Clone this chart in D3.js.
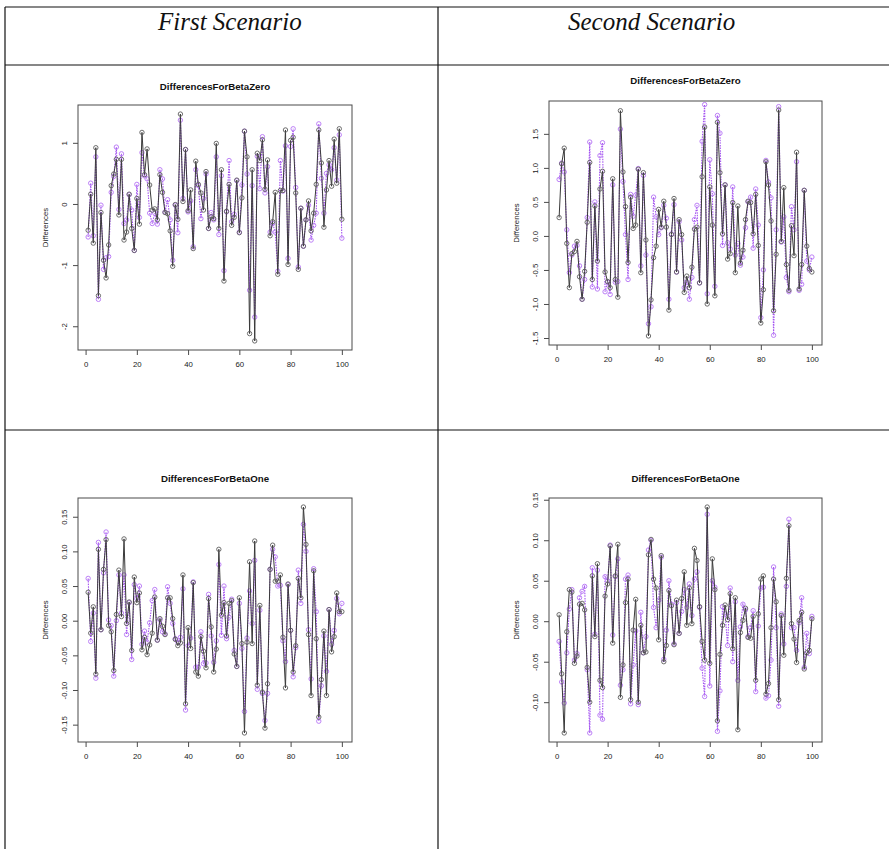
<!DOCTYPE html>
<html>
<head>
<meta charset="utf-8">
<script src="https://cdn.jsdelivr.net/npm/d3@7/dist/d3.min.js"></script>
<style>
  html, body { margin: 0; padding: 0; background: #fff; }
  svg { display: block; }
</style>
</head>
<body>
<svg id="fig" width="889" height="849"></svg>
<script>
// ---- data -------------------------------------------------------------
const scenarioTitles = ["First Scenario", "Second Scenario"];
const panelTitles = ["DifferencesForBetaZero", "DifferencesForBetaOne"];
const yAxisTitle = "Differences";
const xTicks = [0, 20, 40, 60, 80, 100];

// First scenario, beta zero
const s1ZeroBlack = [-0.43,0.16,-0.64,0.92,-1.50,-0.14,-0.92,-1.21,-0.67,0.30,
  0.49,0.73,-0.18,0.73,-0.59,-0.46,0.16,-0.40,-0.76,0.09,
  -0.33,1.17,0.48,0.90,0.31,-0.10,-0.08,-0.26,0.48,0.19,
  -0.14,-0.16,-0.44,-1.02,-0.01,-0.25,1.47,0.04,0.89,-0.11,
  0.23,-0.73,0.70,0.32,0.18,-0.10,0.53,-0.40,-0.21,-0.24,
  0.99,-0.40,0.56,-1.26,-0.12,0.32,-0.35,-0.22,0.39,-0.47,
  0.10,1.19,0.77,-2.12,0.56,-2.24,0.83,0.71,1.05,0.24,
  0.72,-0.52,-0.29,0.19,-1.15,0.22,0.22,1.21,-0.99,1.04,
  1.09,0.18,-1.07,-0.07,-0.69,-0.26,0.05,-0.44,-0.15,0.32,
  1.21,0.67,-0.38,0.23,0.71,0.29,1.06,0.34,1.23,-0.25];
const s1ZeroPurple = [-0.54,0.34,-0.52,0.77,-1.56,-0.02,-1.07,-0.88,-0.86,0.19,
  0.45,0.93,-0.09,0.82,-0.32,-0.26,0.15,-0.10,-0.76,0.32,
  -0.22,0.84,0.46,0.41,-0.15,-0.32,-0.15,-0.33,0.56,0.41,
  -0.13,0.07,-0.26,-0.92,-0.02,-0.47,1.37,0.09,0.89,-0.13,
  0.05,-0.70,0.56,0.30,-0.24,0.09,0.49,-0.40,-0.14,-0.26,
  0.77,-0.50,0.46,-1.09,-0.13,0.71,-0.29,-0.17,0.38,-0.46,
  0.31,1.19,0.49,-1.41,0.30,-1.85,0.78,0.25,1.10,0.18,
  0.61,-0.46,-0.32,-0.46,-1.10,0.71,0.21,0.95,-0.89,0.94,
  1.23,0.27,-1.03,-0.07,-0.69,-0.26,-0.02,-0.59,-0.35,-0.15,
  1.31,0.42,-0.15,0.50,0.64,0.56,0.92,0.39,1.13,-0.56];

// Second scenario, beta zero
const s2ZeroBlack = [0.27,1.06,1.29,-0.11,-0.76,-0.26,-0.23,-0.08,-0.60,-0.93,
  -0.52,0.20,1.08,-0.64,0.44,-0.37,0.69,0.95,-0.53,-0.67,
  -0.76,0.84,-0.64,-0.90,1.84,0.94,0.43,-0.39,0.57,0.11,
  0.16,0.98,-0.54,0.93,-0.06,-1.47,-0.94,-0.32,-0.15,0.39,
  0.13,0.51,0.13,-1.09,0.02,0.55,-0.53,0.24,0.02,-0.83,
  -0.59,-0.76,-0.46,0.10,0.13,-0.69,0.87,1.60,-1.00,0.72,
  0.16,-0.88,1.67,0.93,0.03,0.75,-0.34,-0.26,0.49,-0.54,
  0.44,-0.40,-0.21,0.24,0.51,0.49,0.03,0.61,-0.14,-1.28,
  -0.79,1.09,0.75,0.22,-1.10,-0.27,1.85,-0.08,0.71,-0.42,
  -0.80,0.15,-0.29,1.23,-0.78,-0.42,0.67,-0.15,-0.48,-0.53];
const s2ZeroPurple = [0.83,1.07,0.94,0.09,-0.54,-0.28,-0.15,-0.14,-0.44,-0.93,
  -0.64,0.27,1.38,-0.75,0.50,-0.78,1.18,1.37,-0.82,-0.68,
  -0.86,0.75,-0.68,-0.67,1.57,0.80,0.02,-0.64,0.61,0.29,
  0.60,0.99,-0.44,0.89,-0.28,-1.29,-1.04,0.57,0.28,0.02,
  0.12,0.45,0.26,-0.93,0.03,0.46,-0.53,0.21,-0.06,-0.76,
  -0.68,-0.93,-0.61,0.24,0.45,-0.69,1.39,1.93,-0.85,1.12,
  0.62,-0.74,1.77,1.51,-0.14,0.75,-0.10,-0.19,0.72,-0.28,
  -0.11,-0.43,-0.31,0.12,0.50,0.57,-0.18,0.69,0.16,-1.20,
  -0.50,1.11,0.79,0.56,-1.46,0.09,1.90,-0.09,0.28,-0.61,
  -0.82,0.43,0.09,1.09,-0.80,-0.71,0.67,-0.37,-0.50,-0.31];

// First scenario, beta one
const s1OneBlack = [0.041,-0.018,0.020,-0.077,0.103,-0.013,0.074,0.117,-0.007,-0.016,
  -0.072,0.009,0.073,0.006,0.118,-0.004,0.027,-0.043,0.063,0.026,
  0.040,-0.042,-0.024,-0.049,-0.035,-0.018,0.034,-0.028,0.003,-0.008,
  -0.020,0.033,0.033,0.003,-0.027,-0.036,-0.032,0.066,-0.120,-0.010,
  -0.040,0.055,-0.074,-0.080,-0.023,-0.044,-0.068,0.032,-0.009,-0.074,
  -0.041,0.103,0.008,0.026,-0.022,0.025,0.029,-0.048,-0.066,0.033,
  -0.033,-0.162,-0.031,0.085,-0.033,0.115,-0.093,0.022,-0.103,-0.155,
  -0.091,0.074,0.109,0.057,0.057,0.066,-0.024,-0.097,0.053,-0.014,
  -0.074,-0.036,0.061,0.033,0.164,0.110,-0.020,-0.108,0.072,-0.026,
  -0.139,-0.085,-0.015,-0.108,0.016,-0.045,-0.023,0.040,0.013,0.013];
const s1OnePurple = [0.061,-0.030,0.011,-0.083,0.113,-0.013,0.069,0.128,0.001,-0.007,
  -0.080,0.000,0.066,0.011,0.066,-0.020,0.026,-0.056,0.052,0.032,
  0.050,-0.034,-0.015,-0.031,-0.003,0.029,0.045,-0.028,0.001,-0.016,
  -0.019,0.049,0.025,-0.004,-0.026,-0.031,-0.024,0.046,-0.129,-0.036,
  -0.025,0.056,-0.067,-0.067,-0.016,-0.062,-0.061,0.038,-0.022,-0.060,
  -0.029,0.081,-0.021,0.050,-0.026,0.005,0.031,-0.043,-0.066,0.025,
  -0.040,-0.131,-0.025,0.043,-0.004,0.087,-0.099,0.015,-0.105,-0.144,
  -0.105,0.074,0.103,0.092,0.050,0.051,-0.029,-0.059,0.052,-0.014,
  -0.081,-0.039,0.073,0.025,0.139,0.100,-0.013,-0.084,0.075,0.013,
  -0.145,-0.094,-0.022,-0.073,0.016,-0.034,-0.014,0.032,0.010,0.025];

// Second scenario, beta one
const s2OneBlack = [0.008,-0.065,-0.138,-0.013,0.039,0.036,-0.052,-0.043,0.021,0.022,
  0.014,-0.057,-0.100,0.056,-0.019,0.071,-0.073,-0.082,0.031,0.046,
  0.093,-0.027,0.056,0.095,-0.094,-0.054,0.023,0.052,-0.097,-0.011,
  0.027,-0.100,-0.005,-0.039,-0.038,0.082,0.101,0.052,0.041,-0.023,
  0.081,-0.050,-0.030,0.038,0.019,-0.029,0.026,-0.015,0.028,0.061,
  -0.005,0.041,-0.003,0.090,0.075,0.018,-0.025,-0.048,0.141,-0.052,
  0.077,0.039,-0.123,-0.041,-0.005,0.020,0.002,0.034,-0.034,0.029,
  -0.134,-0.014,0.001,0.016,-0.020,-0.021,0.006,-0.073,0.009,0.052,
  0.056,-0.090,-0.077,-0.008,0.052,0.024,-0.097,0.007,-0.042,0.053,
  0.118,-0.003,-0.022,-0.051,0.001,0.011,-0.059,-0.039,-0.036,0.003];
const s2OnePurple = [-0.025,-0.075,-0.101,-0.039,0.015,0.039,-0.048,-0.040,0.029,0.037,
  0.043,-0.060,-0.138,0.066,-0.016,0.063,-0.116,-0.121,0.055,0.050,
  0.094,-0.017,0.055,0.077,-0.079,-0.060,0.052,0.057,-0.102,-0.054,
  -0.012,-0.103,0.011,-0.039,-0.019,0.088,0.100,0.017,-0.008,0.026,
  0.079,-0.047,-0.011,0.050,0.021,-0.028,0.023,-0.015,0.012,0.039,
  0.017,0.046,0.007,0.052,0.061,0.017,-0.058,-0.093,0.132,-0.080,
  0.050,0.042,-0.136,-0.086,0.018,0.009,-0.030,0.041,-0.050,0.024,
  -0.073,-0.007,0.021,0.014,-0.019,-0.008,0.013,-0.087,-0.006,0.041,
  0.042,-0.095,-0.092,-0.048,0.067,-0.008,-0.105,0.009,-0.028,0.043,
  0.126,-0.008,-0.008,-0.036,-0.002,0.029,-0.057,-0.015,-0.040,0.006];

// y tick values and their printed labels
const yTicksS1Zero = [-2, -1, 0, 1];
const yLabelsS1Zero = ["-2", "-1", "0", "1"];
const yTicksS2Zero = [-1.5, -1.0, -0.5, 0.0, 0.5, 1.0, 1.5];
const yLabelsS2Zero = ["-1.5", "-1.0", "-0.5", "0.0", "0.5", "1.0", "1.5"];
const yTicksS1One = [-0.15, -0.10, -0.05, 0.00, 0.05, 0.10, 0.15];
const yLabelsS1One = ["-0.15", "-0.10", "-0.05", "0.00", "0.05", "0.10", "0.15"];
const yTicksS2One = [-0.10, -0.05, 0.00, 0.05, 0.10, 0.15];
const yLabelsS2One = ["-0.10", "-0.05", "0.00", "0.05", "0.10", "0.15"];

// ---- layout -------------------------------------------------------------
const W = 889, H = 849;
const svg = d3.select("#fig");
svg.append("rect").attr("width", W).attr("height", H).attr("fill", "#fff");

// table grid
const grid = svg.append("g").attr("stroke", "#111").attr("stroke-width", 1.2);
grid.append("line").attr("x1", 5).attr("x2", W).attr("y1", 7).attr("y2", 7);
grid.append("line").attr("x1", 5).attr("x2", W).attr("y1", 65).attr("y2", 65);
grid.append("line").attr("x1", 5).attr("x2", W).attr("y1", 430).attr("y2", 430);
grid.append("line").attr("x1", 5).attr("x2", 5).attr("y1", 7).attr("y2", H);
grid.append("line").attr("x1", 438).attr("x2", 438).attr("y1", 7).attr("y2", H);

// column headers
const headerX = [158, 568];
scenarioTitles.forEach((t, i) => {
  svg.append("text")
    .attr("x", headerX[i]).attr("y", 30)
    .attr("font-family", "'Liberation Serif', 'Times New Roman', serif")
    .attr("font-style", "italic")
    .attr("font-size", 25)
    .attr("fill", "#111")
    .text(t);
});

const panels = [
  { box: { l: 78, t: 105, r: 352, b: 350 }, titleY: 90, title: panelTitles[0],
    black: s1ZeroBlack, purple: s1ZeroPurple, yt: yTicksS1Zero, yl: yLabelsS1Zero },
  { box: { l: 549, t: 101, r: 822, b: 345 }, titleY: 84, title: panelTitles[0],
    black: s2ZeroBlack, purple: s2ZeroPurple, yt: yTicksS2Zero, yl: yLabelsS2Zero },
  { box: { l: 78, t: 498, r: 352, b: 742 }, titleY: 482, title: panelTitles[1],
    black: s1OneBlack, purple: s1OnePurple, yt: yTicksS1One, yl: yLabelsS1One },
  { box: { l: 549, t: 498, r: 822, b: 742 }, titleY: 482, title: panelTitles[1],
    black: s2OneBlack, purple: s2OnePurple, yt: yTicksS2One, yl: yLabelsS2One }
];

const sansFont = "'Liberation Sans', Arial, Helvetica, sans-serif";
const axisColor = "#4a4a4a";
const blackLine = "#3a3a3a";
const blackPoint = "#5e5e5e";
const purpleLine = "#a352f0";
const purplePoint = "#bd80f7";

// pad a range by 4% on each side, as base graphics does
function padded(lo, hi) {
  const d = (hi - lo) * 0.04;
  return [lo - d, hi + d];
}

panels.forEach(p => {
  const b = p.box;
  const idx = d3.range(1, p.black.length + 1);
  const x = d3.scaleLinear().domain(padded(1, p.black.length)).range([b.l, b.r]);
  const y = d3.scaleLinear().domain(padded(d3.min(p.black), d3.max(p.black))).range([b.b, b.t]);
  const g = svg.append("g");

  // title
  g.append("text")
    .attr("x", (b.l + b.r) / 2).attr("y", p.titleY)
    .attr("text-anchor", "middle")
    .attr("font-family", sansFont).attr("font-weight", "bold")
    .attr("font-size", 9.7).attr("fill", "#111")
    .text(p.title);

  // axes
  const xa = g.append("g").attr("transform", `translate(0,${b.b})`)
    .call(d3.axisBottom(x).tickValues(xTicks).tickSize(5).tickPadding(3).tickFormat(d3.format("d")));
  xa.select(".domain").remove();
  xa.selectAll("line").attr("stroke", axisColor);
  xa.selectAll("text").attr("font-family", sansFont).attr("font-size", 7.8).attr("fill", "#1a1a1a")
    .attr("y", 14).attr("dy", "0.35em");

  const ya = g.append("g").attr("transform", `translate(${b.l},0)`)
    .call(d3.axisLeft(y).tickValues(p.yt).tickSize(5).tickFormat((d, i) => p.yl[i]));
  ya.select(".domain").remove();
  ya.selectAll("line").attr("stroke", axisColor);
  ya.selectAll("text")
    .attr("font-family", sansFont).attr("font-size", 7.8).attr("fill", "#1a1a1a")
    .attr("text-anchor", "middle")
    .attr("transform", "rotate(-90)")
    .attr("x", 0).attr("y", -14).attr("dy", "0.35em");

  // y axis title
  g.append("text")
    .attr("transform", `translate(${b.l - 33},${(b.t + b.b) / 2}) rotate(-90)`)
    .attr("text-anchor", "middle").attr("dy", "0.35em")
    .attr("font-family", sansFont).attr("font-size", 7.8).attr("fill", "#1a1a1a")
    .text(yAxisTitle);

  const line = d3.line().x((d, i) => x(idx[i])).y(d => y(d));

  // purple series: dotted line with open circles
  g.append("path").datum(p.purple)
    .attr("d", line).attr("fill", "none")
    .attr("stroke", purpleLine).attr("stroke-width", 1.1).attr("stroke-dasharray", "1.5 1.1");
  g.append("g").selectAll("circle").data(p.purple).join("circle")
    .attr("cx", (d, i) => x(idx[i])).attr("cy", d => y(d)).attr("r", 2.2)
    .attr("fill", "none").attr("stroke", purplePoint).attr("stroke-width", 1);

  // black series: solid line with open circles
  g.append("path").datum(p.black)
    .attr("d", line).attr("fill", "none")
    .attr("stroke", blackLine).attr("stroke-width", 1);
  g.append("g").selectAll("circle").data(p.black).join("circle")
    .attr("cx", (d, i) => x(idx[i])).attr("cy", d => y(d)).attr("r", 2.2)
    .attr("fill", "none").attr("stroke", blackPoint).attr("stroke-width", 0.9);

  // plot frame
  g.append("rect")
    .attr("x", b.l).attr("y", b.t).attr("width", b.r - b.l).attr("height", b.b - b.t)
    .attr("fill", "none").attr("stroke", axisColor).attr("stroke-width", 1);
});
</script>
</body>
</html>
